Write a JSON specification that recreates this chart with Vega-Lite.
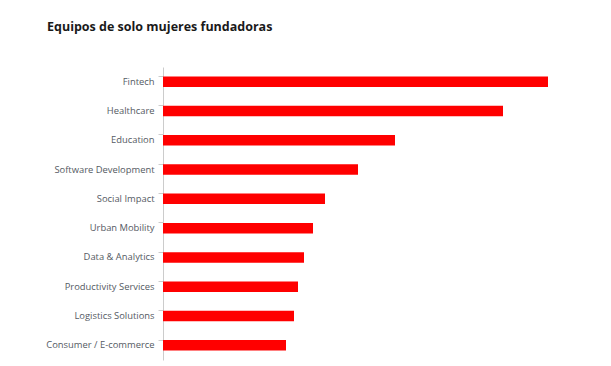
{
  "$schema": "https://vega.github.io/schema/vega-lite/v6.json",
  "autosize": "none",
  "width": 385,
  "height": 293,
  "padding": {"left": 163, "top": 67, "right": 63, "bottom": 6},
  "background": "white",
  "title": {
    "text": "Equipos de solo mujeres fundadoras",
    "anchor": "start",
    "frame": "group",
    "dx": -116,
    "offset": 34,
    "font": "Open Sans",
    "fontSize": 12.5,
    "fontWeight": "bold",
    "color": "#1a1a1a"
  },
  "data": {
    "values": [
      {"sector": "Fintech", "value": 385},
      {"sector": "Healthcare", "value": 340},
      {"sector": "Education", "value": 232},
      {"sector": "Software Development", "value": 195},
      {"sector": "Social Impact", "value": 162},
      {"sector": "Urban Mobility", "value": 150},
      {"sector": "Data & Analytics", "value": 141},
      {"sector": "Productivity Services", "value": 135},
      {"sector": "Logistics Solutions", "value": 131},
      {"sector": "Consumer / E-commerce", "value": 123}
    ]
  },
  "mark": {"type": "bar", "color": "#ff0000"},
  "encoding": {
    "y": {
      "field": "sector",
      "type": "nominal",
      "sort": null,
      "scale": {"paddingInner": 0.64, "paddingOuter": 0.32},
      "axis": {
        "title": null,
        "bandPosition": 0,
        "domainColor": "#cccccc",
        "tickColor": "#cccccc",
        "tickSize": 5,
        "labelPadding": 4,
        "labelFont": "Open Sans",
        "labelFontSize": 9.4,
        "labelColor": "#555a63"
      }
    },
    "x": {
      "field": "value",
      "type": "quantitative",
      "scale": {"domain": [0, 385], "nice": false},
      "axis": null
    }
  },
  "config": {"view": {"stroke": null}}
}
